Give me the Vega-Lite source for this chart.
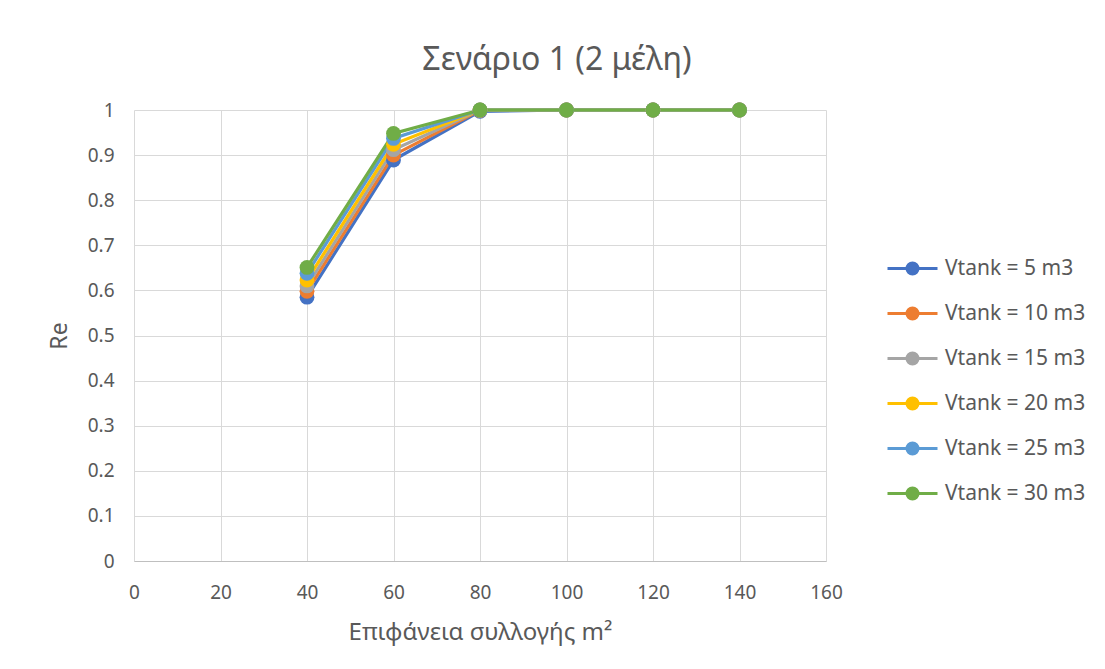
{
  "$schema": "https://vega.github.io/schema/vega-lite/v6.json",
  "autosize": {"type": "none"},
  "width": 692,
  "height": 451,
  "padding": {"left": 134, "top": 110, "right": 279, "bottom": 108},
  "background": "white",
  "title": {
    "text": "Σενάριο 1 (2 μέλη)",
    "anchor": "middle",
    "dx": 77,
    "dy": 13,
    "fontSize": 32,
    "font": "Noto Sans",
    "fontWeight": "normal",
    "color": "#595959",
    "baseline": "alphabetic",
    "offset": 12
  },
  "data": {
    "values": [
      {"area": 40, "Re": 0.585, "series": "Vtank = 5 m3"},
      {"area": 60, "Re": 0.889, "series": "Vtank = 5 m3"},
      {"area": 80, "Re": 0.997, "series": "Vtank = 5 m3"},
      {"area": 100, "Re": 1, "series": "Vtank = 5 m3"},
      {"area": 120, "Re": 1, "series": "Vtank = 5 m3"},
      {"area": 140, "Re": 1, "series": "Vtank = 5 m3"},
      {"area": 40, "Re": 0.598, "series": "Vtank = 10 m3"},
      {"area": 60, "Re": 0.9, "series": "Vtank = 10 m3"},
      {"area": 80, "Re": 0.999, "series": "Vtank = 10 m3"},
      {"area": 100, "Re": 1, "series": "Vtank = 10 m3"},
      {"area": 120, "Re": 1, "series": "Vtank = 10 m3"},
      {"area": 140, "Re": 1, "series": "Vtank = 10 m3"},
      {"area": 40, "Re": 0.61, "series": "Vtank = 15 m3"},
      {"area": 60, "Re": 0.912, "series": "Vtank = 15 m3"},
      {"area": 80, "Re": 1, "series": "Vtank = 15 m3"},
      {"area": 100, "Re": 1, "series": "Vtank = 15 m3"},
      {"area": 120, "Re": 1, "series": "Vtank = 15 m3"},
      {"area": 140, "Re": 1, "series": "Vtank = 15 m3"},
      {"area": 40, "Re": 0.623, "series": "Vtank = 20 m3"},
      {"area": 60, "Re": 0.924, "series": "Vtank = 20 m3"},
      {"area": 80, "Re": 1, "series": "Vtank = 20 m3"},
      {"area": 100, "Re": 1, "series": "Vtank = 20 m3"},
      {"area": 120, "Re": 1, "series": "Vtank = 20 m3"},
      {"area": 140, "Re": 1, "series": "Vtank = 20 m3"},
      {"area": 40, "Re": 0.638, "series": "Vtank = 25 m3"},
      {"area": 60, "Re": 0.937, "series": "Vtank = 25 m3"},
      {"area": 80, "Re": 1, "series": "Vtank = 25 m3"},
      {"area": 100, "Re": 1, "series": "Vtank = 25 m3"},
      {"area": 120, "Re": 1, "series": "Vtank = 25 m3"},
      {"area": 140, "Re": 1, "series": "Vtank = 25 m3"},
      {"area": 40, "Re": 0.651, "series": "Vtank = 30 m3"},
      {"area": 60, "Re": 0.948, "series": "Vtank = 30 m3"},
      {"area": 80, "Re": 1, "series": "Vtank = 30 m3"},
      {"area": 100, "Re": 1, "series": "Vtank = 30 m3"},
      {"area": 120, "Re": 1, "series": "Vtank = 30 m3"},
      {"area": 140, "Re": 1, "series": "Vtank = 30 m3"}
    ]
  },
  "mark": {
    "type": "line",
    "strokeWidth": 3.2,
    "point": {"filled": true, "size": 220, "opacity": 1}
  },
  "encoding": {
    "x": {
      "field": "area",
      "type": "quantitative",
      "scale": {"domain": [0, 160], "nice": false},
      "axis": {
        "title": "Επιφάνεια συλλογής m²",
        "values": [0, 20, 40, 60, 80, 100, 120, 140, 160],
        "ticks": false,
        "labelFlush": false,
        "domainColor": "#bfbfbf",
        "domainWidth": 1,
        "gridColor": "#d9d9d9",
        "labelPadding": 22,
        "titlePadding": 18,
        "labelFontSize": 19,
        "titleFontSize": 24
      }
    },
    "y": {
      "field": "Re",
      "type": "quantitative",
      "scale": {"domain": [0, 1], "nice": false},
      "axis": {
        "title": "Re",
        "format": "~g",
        "values": [0, 0.1, 0.2, 0.3, 0.4, 0.5, 0.6, 0.7, 0.8, 0.9, 1],
        "ticks": false,
        "domain": false,
        "labelFlush": false,
        "gridColor": "#d9d9d9",
        "labelPadding": 20,
        "titlePadding": 16,
        "labelFontSize": 19,
        "titleFontSize": 23
      }
    },
    "color": {
      "field": "series",
      "type": "nominal",
      "sort": ["Vtank = 5 m3", "Vtank = 10 m3", "Vtank = 15 m3", "Vtank = 20 m3", "Vtank = 25 m3", "Vtank = 30 m3"],
      "scale": {
        "domain": ["Vtank = 5 m3", "Vtank = 10 m3", "Vtank = 15 m3", "Vtank = 20 m3", "Vtank = 25 m3", "Vtank = 30 m3"],
        "range": ["#4472C4", "#ED7D31", "#A5A5A5", "#FFC000", "#5B9BD5", "#70AD47"]
      },
      "legend": {
        "title": null,
        "orient": "none",
        "legendX": 752,
        "legendY": 132,
        "symbolType": "M-1,0L-0.22,0M0.22,0L1,0M-0.22,0A0.22,0.22,0,1,1,0.22,0A0.22,0.22,0,1,1,-0.22,0Z",
        "symbolSize": 2500,
        "symbolStrokeWidth": 3,
        "symbolOpacity": 1,
        "rowPadding": 7,
        "labelOffset": 6,
        "labelFontSize": 21,
        "labelLimit": 300
      }
    },
    "order": {"field": "area"}
  },
  "config": {
    "view": {"stroke": null},
    "font": "Noto Sans",
    "axis": {
      "labelColor": "#595959",
      "titleColor": "#595959",
      "titleFontWeight": "normal",
      "labelFont": "Noto Sans",
      "titleFont": "Noto Sans"
    },
    "legend": {"labelColor": "#595959", "labelFont": "Noto Sans"}
  }
}
